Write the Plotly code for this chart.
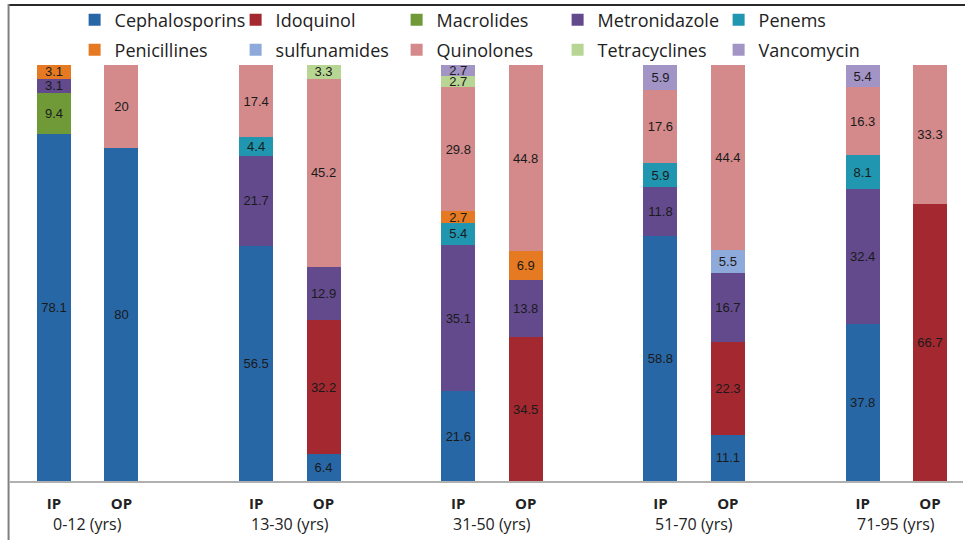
import plotly.graph_objects as go

groups = ["0-12 (yrs)", "13-30 (yrs)", "31-50 (yrs)", "51-70 (yrs)", "71-95 (yrs)"]
types = ["IP", "OP"]

drugs = ["Cephalosporins", "Idoquinol", "Macrolides", "Metronidazole", "Penems",
         "Penicillines", "sulfunamides", "Quinolones", "Tetracyclines", "Vancomycin"]
colors = ["#2867a6", "#a3282f", "#709a37", "#634a8c", "#2096b0",
          "#e67a22", "#8eaadb", "#d48a8b", "#b8d693", "#a394c6"]

# values per bar: order = IP 0-12, OP 0-12, IP 13-30, OP 13-30, ... (0 = absent)
Cephalosporins = [78.1, 80, 56.5, 6.4, 21.6, 0, 58.8, 11.1, 37.8, 0]
Idoquinol      = [0, 0, 0, 32.2, 0, 34.5, 0, 22.3, 0, 66.7]
Macrolides     = [9.4, 0, 0, 0, 0, 0, 0, 0, 0, 0]
Metronidazole  = [3.1, 0, 21.7, 12.9, 35.1, 13.8, 11.8, 16.7, 32.4, 0]
Penems         = [0, 0, 4.4, 0, 5.4, 0, 5.9, 0, 8.1, 0]
Penicillines   = [3.1, 0, 0, 0, 2.7, 6.9, 0, 0, 0, 0]
sulfunamides   = [0, 0, 0, 0, 0, 0, 0, 5.5, 0, 0]
Quinolones     = [0, 20, 17.4, 45.2, 29.8, 44.8, 17.6, 44.4, 16.3, 33.3]
Tetracyclines  = [0, 0, 0, 3.3, 2.7, 0, 0, 0, 0, 0]
Vancomycin     = [0, 0, 0, 0, 2.7, 0, 5.9, 0, 5.4, 0]

series = [Cephalosporins, Idoquinol, Macrolides, Metronidazole, Penems,
          Penicillines, sulfunamides, Quinolones, Tetracyclines, Vancomycin]

# bar positions: IP/OP side by side, a gap between age groups
xpos = [g * 3 + t for g in range(len(groups)) for t in range(len(types))]
tick_text = [t for g in groups for t in types]

fig = go.Figure()
for i, (name, col, vals) in enumerate(zip(drugs, colors, series)):
    fig.add_trace(go.Bar(
        x=xpos,
        y=[v if v else None for v in vals],
        name=name,
        legend="legend" if i < 5 else "legend2",
        marker=dict(color=col, line=dict(width=0)),
        width=0.505,
        text=[(f"{v:g}" if v else "") for v in vals],
        textposition="inside",
        insidetextanchor="middle",
        textangle=0,
        constraintext="none",
        textfont=dict(family="Liberation Sans, Arial", size=13, color="#1a1a1a"),
        hoverinfo="name+text",
    ))

annotations = []
for g, label in enumerate(groups):
    annotations.append(dict(
        x=g * 3 + 0.5, y=-0.103, xref="x", yref="paper",
        text=label, showarrow=False, xanchor="center", yanchor="middle",
        font=dict(family="Open Sans, Lato", size=16, color="#222222"),
    ))

legend_common = dict(
    orientation="h", xanchor="left", yref="container", yanchor="middle",
    entrywidth=116, entrywidthmode="pixels",
    font=dict(family="Open Sans, Lato", size=18, color="#222222"),
    traceorder="normal", bgcolor="rgba(0,0,0,0)",
)

fig.update_layout(
    width=965, height=540,
    barmode="stack", barnorm="percent",
    plot_bgcolor="white", paper_bgcolor="white",
    margin=dict(l=10, r=2, t=65, b=59, autoexpand=False),
    showlegend=True,
    legend=dict(x=0.0678, y=1 - 20 / 540, **legend_common),
    legend2=dict(x=0.0678, y=1 - 50 / 540, **legend_common),
    uniformtext=dict(mode="show", minsize=13),
    xaxis=dict(
        range=[-0.653, 13.49],
        tickvals=xpos, ticktext=[f"<b>{t}</b>" for t in tick_text],
        tickfont=dict(family="Open Sans, Lato", size=15, color="#222222"),
        showgrid=False, zeroline=False,
        showline=True, linecolor="#b0b0b0", linewidth=1.5,
        ticks="", ticklabelstandoff=8, automargin=False,
    ),
    yaxis=dict(
        range=[0, 100], visible=False, showgrid=False, zeroline=False,
    ),
    annotations=annotations,
    shapes=[
        dict(type="line", xref="paper", yref="paper", layer="above",
             x0=-0.0015, x1=1.01, y0=1.1442, y1=1.1442,
             line=dict(color="#2a2a2a", width=2)),
        dict(type="line", xref="paper", yref="paper", layer="above",
             x0=-0.0015, x1=-0.0015, y0=1.1466, y1=-0.2,
             line=dict(color="#808080", width=2)),
    ],
)

fig.write_html("out.html", config={"displayModeBar": False},
               post_script="document.body.style.margin='0px';")
